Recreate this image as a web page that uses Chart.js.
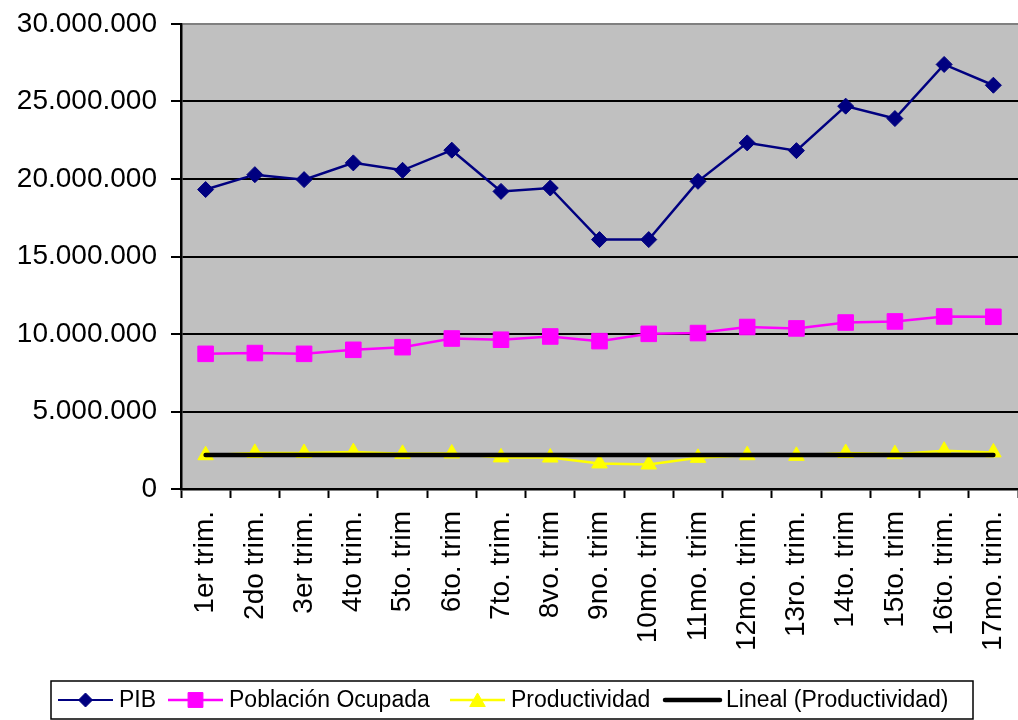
<!DOCTYPE html>
<html>
<head>
<meta charset="utf-8">
<script src="https://cdn.jsdelivr.net/npm/chart.js@4.4.1/dist/chart.umd.min.js"></script>
<style>
  html, body { margin: 0; padding: 0; background: #ffffff; }
  #wrap { width: 1018px; height: 720px; position: relative; }
</style>
</head>
<body>
<div id="wrap"><canvas id="c" width="1018" height="720"></canvas></div>
<script>
// ---- Data ----
const categories = ["1er trim.", "2do trim.", "3er trim.", "4to trim.", "5to. trim", "6to. trim",
  "7to. trim.", "8vo. trim", "9no. trim", "10mo. trim", "11mo. trim", "12mo. trim.",
  "13ro. trim.", "14to. trim", "15to. trim", "16to. trim.", "17mo. trim."];

const pib = [19320000, 20280000, 19960000, 21040000, 20560000, 21860000, 19200000, 19420000,
  16090000, 16090000, 19850000, 22330000, 21830000, 24700000, 23900000, 27390000, 26050000];

const poblacion = [8720000, 8770000, 8720000, 8980000, 9150000, 9710000, 9630000, 9840000,
  9540000, 10010000, 10060000, 10450000, 10360000, 10740000, 10810000, 11130000, 11110000];

const productividad = [2180000, 2330000, 2320000, 2380000, 2270000, 2290000, 2040000, 2030000,
  1650000, 1580000, 2010000, 2180000, 2140000, 2320000, 2250000, 2470000, 2360000];

// Linear trend of Productividad: value at first and last category
const linealStart = 2190000;
const linealEnd = 2190000;
const lineal = categories.map((c, i) => i === 0 ? linealStart : (i === categories.length - 1 ? linealEnd : null));

const yMin = 0, yMax = 30000000, yStep = 5000000;

const seriesNames = ["PIB", "Población Ocupada", "Productividad", "Lineal (Productividad)"];

// ---- Styles ----
const FONT = "'Liberation Sans', Arial, sans-serif";
const NAVY = '#000080', MAGENTA = '#FF00FF', YELLOW = '#FFFF00', BLACK = '#000000';

function fmt(v) {
  return String(Math.round(v)).replace(/\B(?=(\d{3})+(?!\d))/g, '.');
}

function drawShape(ctx, style, r, x, y) {
  if (style === 'rectRot') {
    ctx.moveTo(x - r, y); ctx.lineTo(x, y - r); ctx.lineTo(x + r, y); ctx.lineTo(x, y + r); ctx.closePath();
  } else if (style === 'rect') {
    const s = r * Math.SQRT1_2;
    ctx.rect(x - s, y - s, 2 * s, 2 * s);
  } else if (style === 'triangle') {
    ctx.moveTo(x, y - r);
    ctx.lineTo(x + r * Math.sin(2 * Math.PI / 3), y + r / 2);
    ctx.lineTo(x - r * Math.sin(2 * Math.PI / 3), y + r / 2);
    ctx.closePath();
  }
}

const bgPlugin = {
  id: 'plotBg',
  beforeDraw(chart) {
    const { ctx, chartArea: a } = chart;
    ctx.save();
    ctx.fillStyle = '#C0C0C0';
    ctx.fillRect(a.left, a.top, a.right - a.left, a.bottom - a.top);
    ctx.restore();
  }
};

// legend layout (positions of each entry's sample line)
const legendLineX = [58, 168, 450, 665];
const legendLineLen = 55;

const legendPlugin = {
  id: 'boxLegend',
  afterDraw(chart) {
    const ctx = chart.ctx;
    const boxL = 51, boxT = 681, boxR = 973, boxB = 719;
    ctx.save();
    ctx.strokeStyle = BLACK;
    ctx.lineWidth = 1.5;
    ctx.strokeRect(boxL, boxT, boxR - boxL, boxB - boxT);
    ctx.font = '23px ' + FONT;
    ctx.textBaseline = 'middle';
    const cy = 700;
    const styles = [
      { color: NAVY, lw: 2, marker: 'rectRot', r: 7 },
      { color: MAGENTA, lw: 2.5, marker: 'rect', r: 10.5 },
      { color: YELLOW, lw: 2.5, marker: 'triangle', r: 9 },
      { color: BLACK, lw: 4.5, marker: null, r: 0 }
    ];
    seriesNames.forEach((name, i) => {
      const s = styles[i];
      const x = legendLineX[i];
      ctx.strokeStyle = s.color;
      ctx.lineWidth = s.lw;
      ctx.lineCap = i === 3 ? 'round' : 'butt';
      ctx.beginPath();
      ctx.moveTo(x, cy);
      ctx.lineTo(x + legendLineLen, cy);
      ctx.stroke();
      if (s.marker) {
        ctx.fillStyle = s.color;
        ctx.strokeStyle = s.color;
        ctx.lineWidth = 1;
        ctx.beginPath();
        drawShape(ctx, s.marker, s.r, x + legendLineLen / 2, s.marker === 'triangle' ? cy + 2 : cy);
        ctx.fill();
        ctx.stroke();
      }
      ctx.fillStyle = BLACK;
      ctx.fillText(name, x + legendLineLen + 6, cy + 1);
    });
    ctx.restore();
  }
};

new Chart(document.getElementById('c'), {
  type: 'line',
  data: {
    labels: categories,
    datasets: [
      { label: seriesNames[0], data: pib, borderColor: NAVY, backgroundColor: NAVY, borderWidth: 2.5,
        pointStyle: 'rectRot', pointRadius: 8, pointBorderWidth: 1, tension: 0, order: 1 },
      { label: seriesNames[1], data: poblacion, borderColor: MAGENTA, backgroundColor: MAGENTA, borderWidth: 2.5,
        pointStyle: 'rect', pointRadius: 11, pointBorderWidth: 1, tension: 0, order: 2 },
      { label: seriesNames[2], data: productividad, borderColor: YELLOW, backgroundColor: YELLOW, borderWidth: 2.5,
        pointStyle: 'triangle', pointRadius: 9, pointBorderWidth: 1, tension: 0, order: 3 },
      { label: seriesNames[3], data: lineal, borderColor: BLACK, backgroundColor: BLACK, borderWidth: 4.5,
        borderCapStyle: 'round', pointRadius: 0, spanGaps: true, tension: 0, order: 0 }
    ]
  },
  options: {
    responsive: false,
    animation: false,
    devicePixelRatio: 1,
    layout: { autoPadding: false, padding: { left: 0, right: 0, top: 24, bottom: 0 } },
    plugins: { legend: { display: false }, tooltip: { enabled: false } },
    scales: {
      x: {
        type: 'category',
        offset: true,
        afterFit(scale) { scale.height = 231; scale.paddingLeft = 0; scale.paddingRight = 0; },
        grid: { offset: true, drawOnChartArea: false, drawTicks: true, tickLength: 9, tickColor: BLACK, tickWidth: 2 },
        border: { display: true, color: BLACK, width: 2.5 },
        ticks: { autoSkip: false, minRotation: 90, maxRotation: 90, padding: 13, color: BLACK,
          font: { family: FONT, size: 28 } }
      },
      y: {
        min: yMin, max: yMax,
        afterFit(scale) { scale.width = 181; scale.paddingTop = 0; scale.paddingBottom = 0; },
        grid: {
          color: (c) => c.tick && c.tick.value === yMax ? '#808080' : BLACK,
          lineWidth: 2,
          tickLength: 10,
          tickColor: BLACK,
          tickWidth: 2
        },
        border: { display: true, color: BLACK, width: 2.5 },
        ticks: { stepSize: yStep, padding: 14, color: BLACK, font: { family: FONT, size: 28 },
          callback: (v) => fmt(v) }
      }
    }
  },
  plugins: [bgPlugin, legendPlugin]
});
</script>
</body>
</html>
